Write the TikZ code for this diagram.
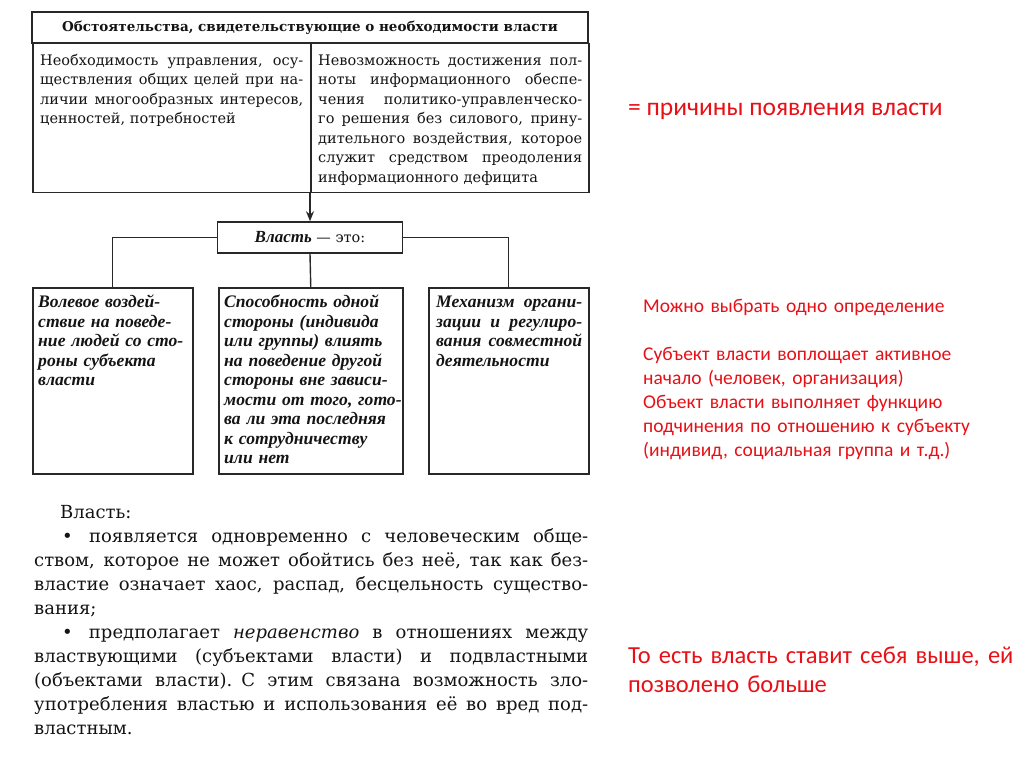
\documentclass[tikz,border=0pt]{standalone}
\usepackage{fontspec}
\setmainfont{DejaVu Serif}
\newfontfamily\boxfont{Liberation Serif}
\newfontfamily\redfont{Carlito}
\usetikzlibrary{arrows.meta}
\definecolor{ink}{RGB}{20,20,20}
\definecolor{lineclr}{RGB}{40,40,40}
\definecolor{redtxt}{RGB}{232,16,22}
\newcommand\jl[1]{\noindent\hbox to\hsize{#1}\par}
\newcommand\jn[1]{\noindent\hbox{#1}\par}
\newcommand\wsp{\parindent=0pt\parskip=0pt\spaceskip=0.33em plus 3em minus 0.12em\relax}
\newcommand\bul{\hspace{28pt}•\hspace{0.5em plus 3em}}
\begin{document}
\begin{tikzpicture}[x=1pt,y=-1pt,
  frame/.style={draw=lineclr, line width=1.5pt, inner sep=0pt},
  conn/.style={draw=lineclr, line width=1.4pt},
  arr/.style={conn, -{Stealth[length=10pt,width=8pt]}},
  body/.style={inner sep=0pt, text=ink, anchor=base west,
    font=\fontsize{14.5}{19.5}\selectfont},
  boxtext/.style={inner sep=0pt, text=ink, anchor=base west,
    font=\boxfont\bfseries\itshape\fontsize{17.6}{19.5}\selectfont},
  bigbody/.style={inner sep=0pt, text=ink, anchor=base west,
    font=\fontsize{18}{24}\selectfont},
  note/.style={inner sep=0pt, text=redtxt, anchor=base west, align=left}
]
\useasboundingbox[fill=white] (0,0) rectangle (1024,767);

% top table
\node[frame, minimum width=556pt, minimum height=31pt, text=ink,
  font=\bfseries\fontsize{13.5}{16}\selectfont] (hdr) at (310,27.5)
  {Обстоятельства, свидетельствующие о необходимости власти};
\node[frame, minimum width=278pt, minimum height=149pt, anchor=north west] (cl) at (32,43) {};
\node[frame, minimum width=278pt, minimum height=149pt, anchor=north west] (cr) at (310,43) {};

\node[body, text width=263pt] (tl) at (40,65.5) {\wsp%
\jl{Необходимость управления, осу-}%
\jl{ществления общих целей при на-}%
\jl{личии многообразных интересов,}%
\jn{ценностей, потребностей}};

\node[body, text width=264pt] (tr) at (318,65.5) {\wsp%
\jl{Невозможность достижения пол-}%
\jl{ноты информационного обеспе-}%
\jl{чения политико-управленческо-}%
\jl{го решения без силового, прину-}%
\jl{дительного воздействия, которое}%
\jl{служит средством преодоления}%
\jn{информационного дефицита}};

% power box
\node[frame, minimum width=185pt, minimum height=31pt, text=ink,
  font=\fontsize{14.5}{16}\selectfont] (vl) at (310,237.5)
  {{\boxfont\bfseries\itshape\fontsize{17}{16}\selectfont Власть} — это:};

\node[frame, minimum width=160pt, minimum height=186pt, anchor=north west] (b1) at (32,287) {};
\node[frame, minimum width=184pt, minimum height=186pt, anchor=north west] (b2) at (218,287) {};
\node[frame, minimum width=160pt, minimum height=186pt, anchor=north west] (b3) at (428,287) {};

\draw[arr] (cr.south west) -- (vl.north);
\draw[conn] (vl.west) -| (b1.north);
\draw[conn] (vl.east) -| (b3.north);
\draw[conn] (vl.south) -- (b2.north);

\node[boxtext, text width=150pt] (t1) at (38,307.5) {\wsp%
\jn{Волевое воздей-}%
\jn{ствие на поведе-}%
\jn{ние людей со сто-}%
\jn{роны субъекта}%
\jn{власти}};

\node[boxtext, text width=175pt] (t2) at (224,307.5) {\wsp%
\jn{Способность одной}%
\jn{стороны (индивида}%
\jn{или группы) влиять}%
\jn{на поведение другой}%
\jn{стороны вне зависи-}%
\jn{мости от того, гото-}%
\jn{ва ли эта последняя}%
\jn{к сотрудничеству}%
\jn{или нет}};

\node[boxtext, text width=146pt] (t3) at (436,307.5) {\wsp%
\jl{Механизм органи-}%
\jl{зации и регулиро-}%
\jl{вания совместной}%
\jn{деятельности}};

% bottom text
\node[bigbody, text width=554pt] (bt) at (34,518.5) {\wsp%
\jn{\hspace{26pt}Власть:}%
\jl{\bul появляется одновременно с человеческим обще-}%
\jl{ством, которое не может обойтись без неё, так как без-}%
\jl{властие означает хаос, распад, бесцельность существо-}%
\jn{вания;}%
\jl{\bul предполагает \textit{неравенство} в отношениях между}%
\jl{властвующими (субъектами власти) и подвластными}%
\jl{(объектами власти). С этим связана возможность зло-}%
\jl{употребления властью и использования её во вред под-}%
\jn{властным.}};

% red notes
\node[note, font=\redfont\fontsize{25.5}{28}\selectfont] (r1) at (628,116)
  {= причины появления власти};
\node[note, text width=380pt, font=\redfont\fontsize{19.5}{24}\selectfont] (r2) at (643,312)
  {Можно выбрать одно определение\\[24pt]
   Субъект власти воплощает активное\\
   начало (человек, организация)\\
   Объект власти выполняет функцию\\
   подчинения по отношению к субъекту\\
   (индивид, социальная группа и т.д.)};
\node[note, text width=395pt, font=\redfont\fontsize{24.5}{29}\selectfont] (r3) at (628,663)
  {То есть власть ставит себя выше, ей\\
   позволено больше};
\end{tikzpicture}
\end{document}
